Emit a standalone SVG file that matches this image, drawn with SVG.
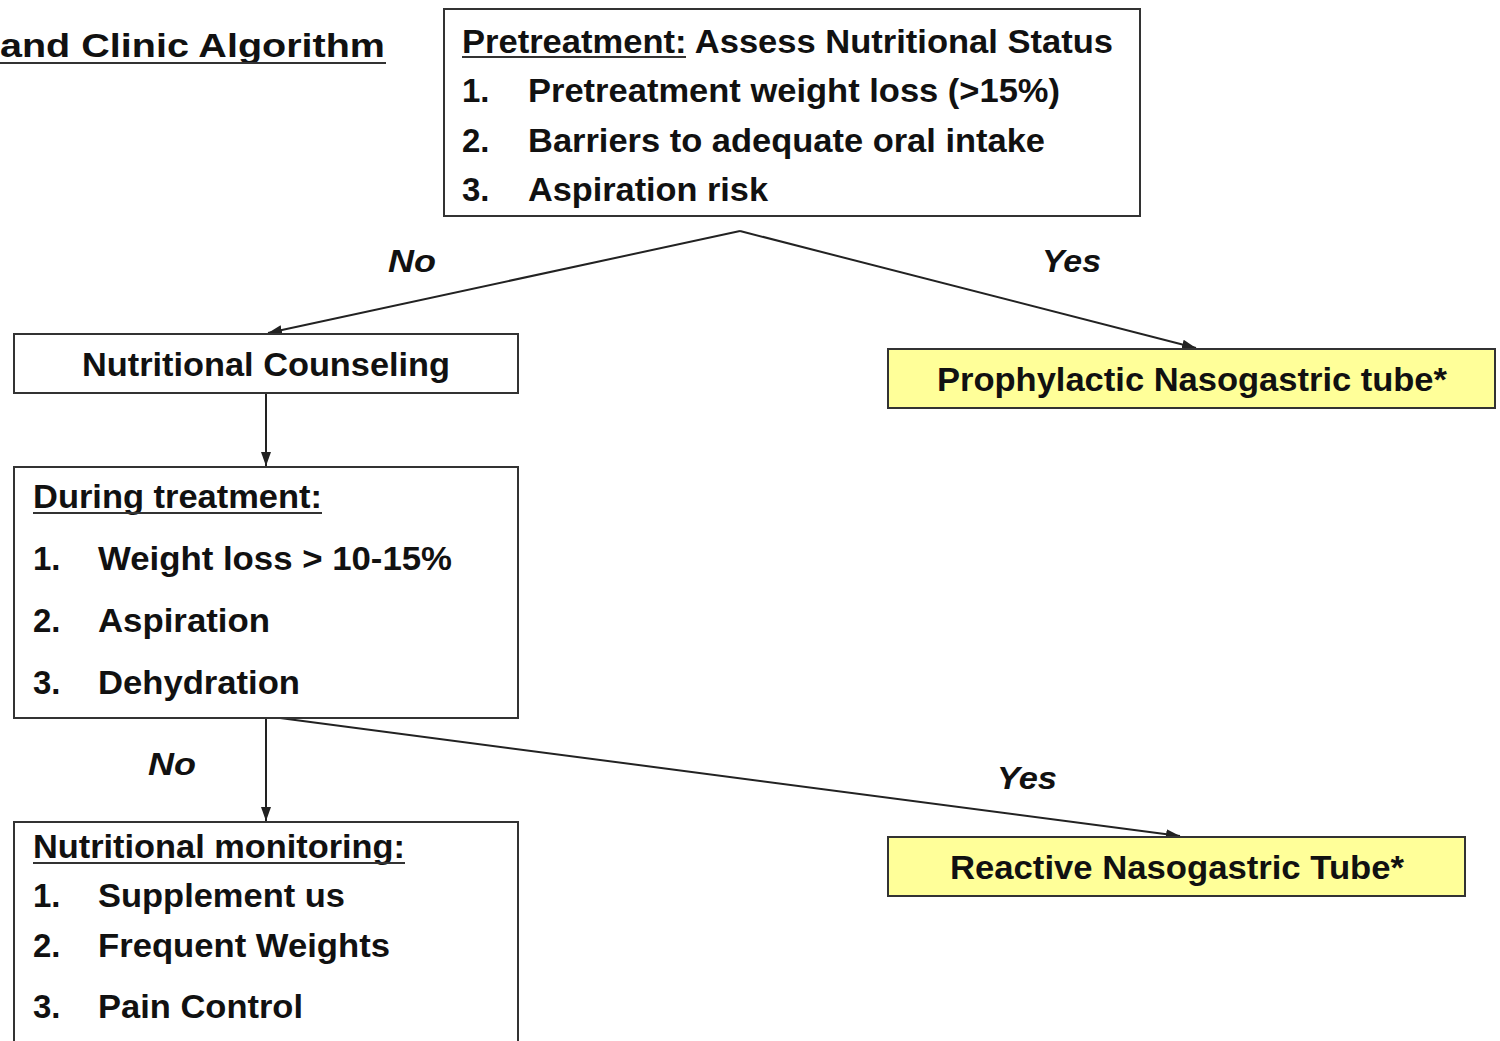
<svg xmlns="http://www.w3.org/2000/svg" width="1500" height="1041" viewBox="0 0 1500 1041">
<style>
text{font-family:"Liberation Sans",Arial,sans-serif;font-weight:bold;font-size:33px;fill:#111;}
.lbl{font-style:italic;font-size:31px;}
.box{fill:#fff;stroke:#333;stroke-width:2;}
.yel{fill:#ffff99;stroke:#333;stroke-width:2;}
.u{stroke:#333;stroke-width:2;}
.c{stroke:#222;stroke-width:2;fill:none;}
</style>
<defs>
<marker id="ah" viewBox="0 0 14 12" refX="14" refY="6" markerWidth="14" markerHeight="12" markerUnits="userSpaceOnUse" orient="auto">
<path d="M0,1 L14,6 L0,11 z" fill="#222"/>
</marker>
</defs>
<rect width="1500" height="1041" fill="#fff"/>
<g id="title">
<text x="0" y="57" font-size="37" textLength="385" lengthAdjust="spacingAndGlyphs">and Clinic Algorithm</text>
<line class="u" x1="0" y1="63" x2="386" y2="63"/>
</g>
<g id="connectors">
<polyline class="c" points="740,231 268,333" marker-end="url(#ah)"/>
<polyline class="c" points="740,231 1196,348" marker-end="url(#ah)"/>
<line class="c" x1="266" y1="393" x2="266" y2="466" marker-end="url(#ah)"/>
<line class="c" x1="266" y1="718" x2="266" y2="821" marker-end="url(#ah)"/>
<line class="c" x1="280" y1="718" x2="1180" y2="836" marker-end="url(#ah)"/>
<text class="lbl" x="388" y="272" textLength="48" lengthAdjust="spacingAndGlyphs">No</text>
<text class="lbl" x="1042" y="272" textLength="59" lengthAdjust="spacingAndGlyphs">Yes</text>
<text class="lbl" x="148" y="775" textLength="48" lengthAdjust="spacingAndGlyphs">No</text>
<text class="lbl" x="997" y="789" textLength="60" lengthAdjust="spacingAndGlyphs">Yes</text>
</g>
<g id="pretreatment">
<rect class="box" x="444" y="9" width="696" height="207"/>
<text x="462" y="53" textLength="651" lengthAdjust="spacingAndGlyphs">Pretreatment: Assess Nutritional Status</text>
<line class="u" x1="462" y1="57" x2="686" y2="57"/>
<text x="462" y="102">1.</text>
<text x="528" y="102" textLength="532" lengthAdjust="spacingAndGlyphs">Pretreatment weight loss (&gt;15%)</text>
<text x="462" y="152">2.</text>
<text x="528" y="152" textLength="517" lengthAdjust="spacingAndGlyphs">Barriers to adequate oral intake</text>
<text x="462" y="201">3.</text>
<text x="528" y="201" textLength="240" lengthAdjust="spacingAndGlyphs">Aspiration risk</text>
</g>
<g id="counseling">
<rect class="box" x="14" y="334" width="504" height="59"/>
<text x="82" y="376" textLength="368" lengthAdjust="spacingAndGlyphs">Nutritional Counseling</text>
</g>
<g id="prophylactic">
<rect class="yel" x="888" y="349" width="607" height="59"/>
<text x="937" y="391" textLength="510" lengthAdjust="spacingAndGlyphs">Prophylactic Nasogastric tube*</text>
</g>
<g id="during">
<rect class="box" x="14" y="467" width="504" height="251"/>
<text x="33" y="508" textLength="289" lengthAdjust="spacingAndGlyphs">During treatment:</text>
<line class="u" x1="33" y1="513" x2="322" y2="513"/>
<text x="33" y="570">1.</text>
<text x="98" y="570" textLength="354" lengthAdjust="spacingAndGlyphs">Weight loss &gt; 10-15%</text>
<text x="33" y="632">2.</text>
<text x="98" y="632" textLength="172" lengthAdjust="spacingAndGlyphs">Aspiration</text>
<text x="33" y="694">3.</text>
<text x="98" y="694" textLength="202" lengthAdjust="spacingAndGlyphs">Dehydration</text>
</g>
<g id="monitoring">
<rect class="box" x="14" y="822" width="504" height="230"/>
<text x="33" y="858" textLength="372" lengthAdjust="spacingAndGlyphs">Nutritional monitoring:</text>
<line class="u" x1="33" y1="863" x2="405" y2="863"/>
<text x="33" y="907">1.</text>
<text x="98" y="907" textLength="247" lengthAdjust="spacingAndGlyphs">Supplement us</text>
<text x="33" y="957">2.</text>
<text x="98" y="957" textLength="292" lengthAdjust="spacingAndGlyphs">Frequent Weights</text>
<text x="33" y="1018">3.</text>
<text x="98" y="1018" textLength="205" lengthAdjust="spacingAndGlyphs">Pain Control</text>
</g>
<g id="reactive">
<rect class="yel" x="888" y="837" width="577" height="59"/>
<text x="950" y="879" textLength="454" lengthAdjust="spacingAndGlyphs">Reactive Nasogastric Tube*</text>
</g>
</svg>
